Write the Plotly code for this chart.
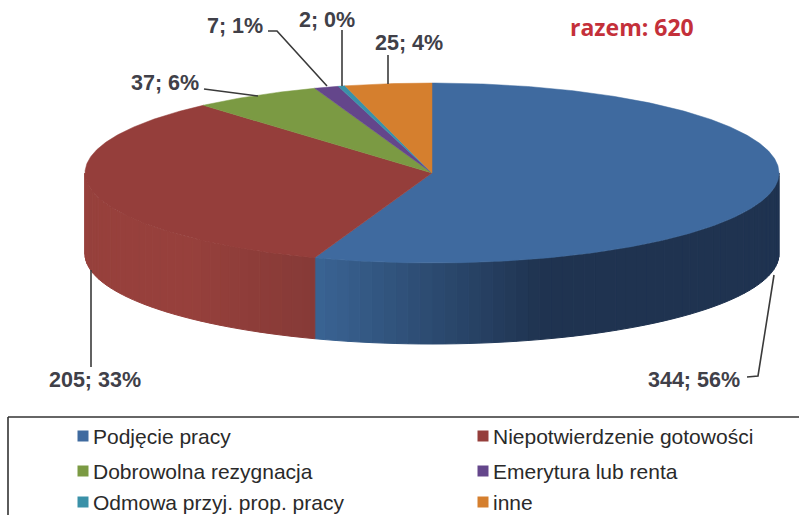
import math
import plotly.graph_objects as go

categories = ["Podjęcie pracy", "Niepotwierdzenie gotowości", "Dobrowolna rezygnacja",
              "Emerytura lub renta", "Odmowa przyj. prop. pracy", "inne"]
values = [344, 205, 37, 7, 2, 25]
percents = [56, 33, 6, 1, 0, 4]
colors = ["#3f6a9f", "#953e3b", "#7b9a43", "#64468b", "#3a91a8", "#d57f2e"]
total_label = "razem: 620"

W, H = 799, 515
CX, CY, RX, RY, DEPTH = 432, 173, 347, 90, 81


def pt(deg, dy=0):
    r = math.radians(deg)
    return CX + RX * math.sin(r), CY - RY * math.cos(r) + dy


def arc(a, b, dy=0):
    n = max(2, int(abs(b - a) * 2) + 1)
    return [pt(a + (b - a) * i / (n - 1), dy) for i in range(n)]


def mix(c1, c2, f):
    f = max(0, min(1, f))
    return "#%02x%02x%02x" % tuple(round(p + (q - p) * f) for p, q in zip(c1, c2))


fig = go.Figure()


def poly(points, color, line=1):
    fig.add_trace(go.Scatter(
        x=[p[0] for p in points] + [points[0][0]],
        y=[p[1] for p in points] + [points[0][1]],
        mode="lines", fill="toself", fillcolor=color,
        line=dict(color=color, width=line), hoverinfo="skip", showlegend=False))


total = sum(values)
edges = [0]
for v in values:
    edges.append(edges[-1] + v / total * 360)

# Side wall: only the front half (90..270 degrees) is visible
step = 2
a = 90.0
while a < 270:
    b = min(a + step, 270)
    mid = (a + b) / 2
    if a < edges[1] < b:
        b = edges[1]
        mid = (a + b) / 2
    if mid < edges[1]:
        f = min(1, (edges[1] - mid) / 38)
        col = mix((0x3a, 0x64, 0x94), (0x1f, 0x33, 0x50), f)
    else:
        f = (mid - edges[1]) / 25
        col = mix((0x86, 0x3a, 0x37), (0x97, 0x40, 0x3c), f)
    poly(arc(a, b) + arc(b, a, DEPTH), col)
    a = b

# Top faces
for i, c in enumerate(colors):
    poly([(CX, CY)] + arc(edges[i], edges[i + 1]), c, line=0.5)

# Leader lines
leaders = [
    ([774, 758, 747], [275, 376, 377]),
    ([91, 91], [270, 367]),
    ([204, 258], [89, 96]),
    ([268, 277, 327], [31, 31, 86]),
    ([342, 342], [30, 86]),
    ([388, 388], [55, 84]),
]
for lx, ly in leaders:
    fig.add_trace(go.Scatter(x=lx, y=ly, mode="lines", line=dict(color="#3a3a3a", width=1.6),
                             hoverinfo="skip", showlegend=False))

# Data labels
label_pos = [(694, 380), (95, 380), (165, 83), (235, 26), (327, 20), (409, 43)]
for v, p, (x, y) in zip(values, percents, label_pos):
    fig.add_annotation(x=x, y=y, text=f"{v}; {p}%", showarrow=False, xanchor="center", yanchor="middle",
                       font=dict(family="Liberation Sans", size=21.5, color="#404048", weight="bold"))

fig.add_annotation(x=632, y=27, text=total_label, showarrow=False,
                   font=dict(family="Open Sans", size=23, color="#c4303a", weight="bold"))

# Legend
leg_x = [83, 483, 83, 483, 83, 483]
leg_y = [436, 436, 471, 471, 502, 502]
for name, c, x, y in zip(categories, colors, leg_x, leg_y):
    fig.add_trace(go.Scatter(x=[x], y=[y], mode="markers", hoverinfo="skip", showlegend=False,
                             marker=dict(symbol="square", size=11, color=c)))
    fig.add_annotation(x=x + 8, y=y, text=name, showarrow=False, xanchor="left", yanchor="middle",
                       font=dict(family="Liberation Sans", size=21, color="#2a2a2a"))

fig.add_shape(type="line", x0=8, x1=799, y0=417, y1=417, line=dict(color="#333333", width=1.6))
fig.add_shape(type="line", x0=8, x1=8, y0=417, y1=515, line=dict(color="#333333", width=1.6))

fig.update_xaxes(range=[0, W], visible=False, fixedrange=True)
fig.update_yaxes(range=[H, 0], visible=False, fixedrange=True)
fig.update_layout(width=W, height=H, margin=dict(l=0, r=0, t=0, b=0),
                  paper_bgcolor="white", plot_bgcolor="white", showlegend=False)
fig.write_html("out.html", config={"displayModeBar": False},
               post_script="document.body.style.margin='0';document.documentElement.style.overflow='hidden';")
